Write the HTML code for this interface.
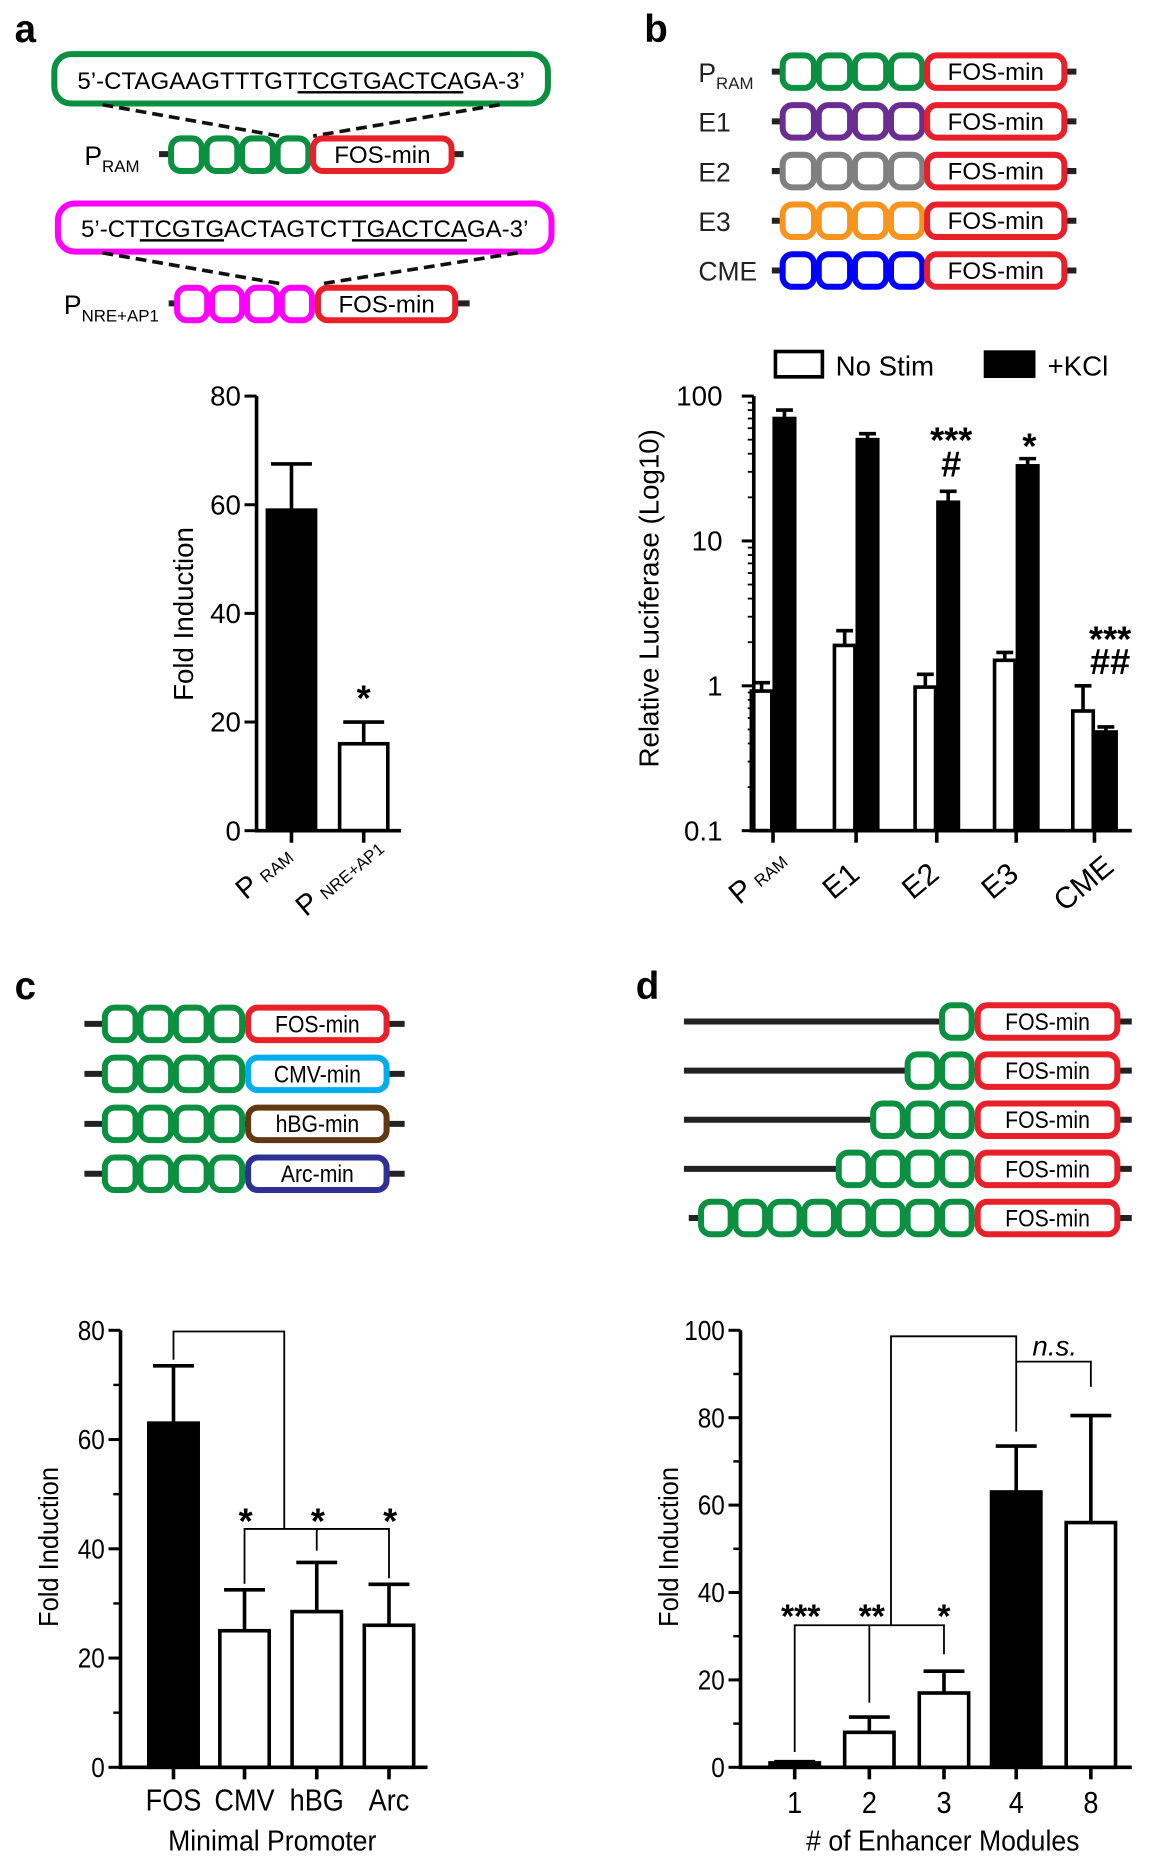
<!DOCTYPE html>
<html><head><meta charset="utf-8"><style>
html,body{margin:0;padding:0;background:#fff}
svg{display:block;font-family:"Liberation Sans",sans-serif}
</style></head><body>
<svg id="fig" width="1156" height="1860" viewBox="0 0 960 1545" xmlns="http://www.w3.org/2000/svg"></svg>
<script>
// ---------- data ----------
const aCats=["P_RAM","P_NRE+AP1"];
const aVals=[59,16];
const aErrs=[67.5,20];
const aTicks=[0,20,40,60,80];

const bCats=["P_RAM","E1","E2","E3","CME"];
const bNoStim=[0.92,1.9,0.98,1.5,0.67];
const bNoStimErr=[1.05,2.4,1.2,1.7,1.0];
const bKCl=[70,50,18.5,33,0.48];
const bKClErr=[80,55,22,37,0.52];
const bTicks=[0.1,1,10,100];
const bTickLabels=["0.1","1","10","100"];

const cCats=["FOS","CMV","hBG","Arc"];
const cVals=[63,25,28.5,26];
const cErrs=[73.5,32.5,37.5,33.5];
const cTicks=[0,20,40,60,80];

const dCats=["1","2","3","4","8"];
const dVals=[1,8,17,63,56];
const dErrs=[1.3,11.5,22,73.5,80.5];
const dTicks=[0,20,40,60,80,100];

const NS="http://www.w3.org/2000/svg";
const svg=document.getElementById('fig');
function el(tag,at,parent,txt){const e=document.createElementNS(NS,tag);for(const k in at)e.setAttribute(k,at[k]);if(txt!==undefined)e.textContent=txt;(parent||svg).appendChild(e);return e;}
function grp(name){const g=el('g',{});return g;}
const GREEN="#0a9040",RED="#e8202a";

[["a",12,35],["b",535,35],["c",12,830],["d",528,830]].forEach(p=>{
 const t=el('text',{x:p[1],y:p[2],'font-size':32,'font-weight':'bold'},svg,p[0]);
 
});

function modules(g,x,y,n,w,h,color){
 for(let i=0;i<n;i++) el('rect',{x:x+i*w+2,y:y+2,width:w-4,height:h-4,rx:8,fill:'#fff',stroke:color,'stroke-width':5},g);
}
function promBox(g,x,y,w,h,color,label,fs,narrow){
 el('rect',{x:x+2,y:y+2,width:w-4,height:h-4,rx:8,fill:'#fff',stroke:color,'stroke-width':5},g);
 const t=el('text',{x:x+w/2,y:y+h/2+7,'font-size':fs,'text-anchor':'middle'},g,label);
 if(narrow)t.setAttribute('transform',`translate(${x+w/2},0) scale(0.88,1) translate(${-(x+w/2)},0)`);
}

// ---------- panel a diagrams ----------
(function(){
 const g=grp('panel-a-constructs');
 el('rect',{x:45,y:45,width:410,height:41,rx:14,fill:'#fff',stroke:GREEN,'stroke-width':5},g);
 const t1=el('text',{x:250,y:74,'font-size':20,'text-anchor':'middle'},g);
 el('tspan',{},t1,"5’-CTAGAAGTTTGT");el('tspan',{'text-decoration':'underline'},t1,"TCGTGACTCA");el('tspan',{},t1,"GA-3’");
 el('path',{d:'M85 87 L232 113 M415 87 L260 113',stroke:'#111','stroke-width':3,'stroke-dasharray':'9,5',fill:'none'},g);
 el('line',{x1:132,y1:128,x2:385,y2:128,stroke:'#222','stroke-width':5},g);
 modules(g,140,113,4,29.5,31,GREEN);
 promBox(g,258,113,119,31,RED,"FOS-min",20);
 const p1=el('text',{x:70,y:137,'font-size':22},g,"P");el('tspan',{'font-size':14,dy:6},p1,"RAM");
 el('rect',{x:48,y:169,width:410,height:40,rx:14,fill:'#fff',stroke:'#ff00ff','stroke-width':5},g);
 const t2=el('text',{x:253,y:197,'font-size':20,'text-anchor':'middle'},g);
 el('tspan',{},t2,"5’-CT");el('tspan',{'text-decoration':'underline'},t2,"TCGTG");el('tspan',{},t2,"ACTAGTCT");el('tspan',{'text-decoration':'underline'},t2,"TGACTCA");el('tspan',{},t2,"GA-3’");
 el('path',{d:'M85 210 L235 236 M430 210 L265 236',stroke:'#111','stroke-width':3,'stroke-dasharray':'9,5',fill:'none'},g);
 el('line',{x1:140,y1:252,x2:390,y2:252,stroke:'#222','stroke-width':5},g);
 modules(g,145,237,4,29,31,'#ff00ff');
 promBox(g,262,237,118,31,RED,"FOS-min",20);
 const p2=el('text',{x:53,y:261,'font-size':22},g,"P");el('tspan',{'font-size':14,dy:6},p2,"NRE+AP1");
})();

// ---------- panel b diagrams ----------
(function(){
 const g=grp('panel-b-constructs');
 const cols=[GREEN,"#6a2d91","#808080","#f7941d","#0000ff"];
 const labs=["P","E1","E2","E3","CME"];
 for(let i=0;i<5;i++){
  const y=44+i*41.3;
  el('line',{x1:641,y1:y+15.5,x2:894,y2:y+15.5,stroke:'#222','stroke-width':5},g);
  modules(g,648,y,4,30,31,cols[i]);
  promBox(g,768,y,118,31,RED,"FOS-min",20);
  const t=el('text',{x:580,y:y+24,'font-size':22,fill:'#222'},g,labs[i]);
  if(i===0)el('tspan',{'font-size':14,dy:6},t,"RAM");
 }
})();

// ---------- panel c diagrams ----------
(function(){
 const g=grp('panel-c-constructs');
 const cols=[RED,"#00aeef","#603913","#2e3192"];
 const labs=["FOS-min","CMV-min","hBG-min","Arc-min"];
 for(let i=0;i<4;i++){
  const y=835+i*41.5;
  el('line',{x1:70,y1:y+15.5,x2:336,y2:y+15.5,stroke:'#222','stroke-width':5},g);
  modules(g,85,y,4,29.5,31,GREEN);
  promBox(g,204,y,119,31,cols[i],labs[i],20,true);
 }
})();

// ---------- panel d diagrams ----------
(function(){
 const g=grp('panel-d-constructs');
 const ns=[1,2,3,4,8];
 for(let i=0;i<5;i++){
  const y=833+i*40.8;
  el('line',{x1:(i===4?572:568),y1:y+15.5,x2:940,y2:y+15.5,stroke:'#222','stroke-width':5},g);
  modules(g,809-ns[i]*28.6,y,ns[i],28.6,31,GREEN);
  promBox(g,810,y,120,31,RED,"FOS-min",20,true);
 }
})();

// ---------- generic linear bar chart ----------
function linChart(o){
 const g=grp(o.name);
 const Y=v=>o.y0-(v-o.min)/(o.max-o.min)*(o.y0-o.yTop);
 o.vals.forEach((v,i)=>{
  const cx=o.xs[i];
  const b=el('rect',{x:cx-o.bw/2,y:Y(v),width:o.bw,height:o.y0-Y(v),fill:o.fills[i],stroke:'#000','stroke-width':3},g);
  
  el('line',{x1:cx,y1:Y(v),x2:cx,y2:Y(o.errs[i]),stroke:'#000','stroke-width':3},g);
  el('line',{x1:cx-o.cap,y1:Y(o.errs[i]),x2:cx+o.cap,y2:Y(o.errs[i]),stroke:'#000','stroke-width':3},g);
 });
 el('line',{x1:o.ax,y1:o.yTop,x2:o.ax,y2:o.y0+1.5,stroke:'#000','stroke-width':3},g);
 el('line',{x1:o.ax,y1:o.y0,x2:o.xEnd,y2:o.y0,stroke:'#000','stroke-width':3},g);
 o.ticks.forEach((t,i)=>{
  el('line',{x1:o.ax-10,y1:Y(t),x2:o.ax,y2:Y(t),stroke:'#000','stroke-width':2.5},g);
  const tl=el('text',{x:o.ax-13,y:Y(t)+8,'font-size':23,'text-anchor':'end'},g,String(t));
  if(o.narrow)tl.setAttribute('transform',`translate(${o.ax-13},0) scale(0.88,1) translate(${-(o.ax-13)},0)`);
  if(o.minor&&i<o.ticks.length-1){const m=(t+o.ticks[i+1])/2;el('line',{x1:o.ax-6,y1:Y(m),x2:o.ax,y2:Y(m),stroke:'#000','stroke-width':2},g);}
 });
 o.xs.forEach(x=>el('line',{x1:x,y1:o.y0,x2:x,y2:o.y0+10,stroke:'#000','stroke-width':3},g));
 const yt=el('text',{x:0,y:0,'font-size':23,'text-anchor':'middle',transform:`translate(${o.titleX},${o.titleY}) rotate(-90)${o.narrow?' scale(0.92,1)':''}`},g,o.ytitle);
 
 return {g,Y};
}

// panel a chart
(function(){
 const r=linChart({name:'panel-a-chart',cats:aCats,vals:aVals,errs:aErrs,ticks:aTicks,min:0,max:80,y0:690,yTop:329,ax:213,xEnd:333,xs:[242,302],bw:40,cap:17,fills:['#000','#fff'],ytitle:'Fold Induction',titleX:160,titleY:510});
 el('text',{x:302,y:590,'font-size':30,'text-anchor':'middle','font-weight':'bold'},r.g,'*');
 const l1=el('text',{x:0,y:0,'font-size':24,transform:'translate(204,748) rotate(-40)'},r.g,'P');el('tspan',{'font-size':14,dx:6},l1,'RAM');
 const l2=el('text',{x:0,y:0,'font-size':24,transform:'translate(254,762) rotate(-40)'},r.g,'P');el('tspan',{'font-size':14,dx:6},l2,'NRE+AP1');
})();

// panel b chart (log)
(function(){
 const g=grp('panel-b-chart');
 const y0=690,yTop=329,ax=626;
 const Y=v=>y0-(Math.log10(v)+1)/3*(y0-yTop);
 const xs=[642,711,778,844,909],bw=17,off=9.5;
 bCats.forEach((c,i)=>{
  [[bNoStim[i],bNoStimErr[i],'#fff',-1,'nostim'],[bKCl[i],bKClErr[i],'#000',1,'kcl']].forEach(s=>{
   const cx=xs[i]+s[3]*off;
   const b=el('rect',{x:cx-bw/2,y:Y(s[0]),width:bw,height:y0-Y(s[0]),fill:s[2],stroke:'#000','stroke-width':3},g);
   
   el('line',{x1:cx,y1:Y(s[0]),x2:cx,y2:Y(s[1]),stroke:'#000','stroke-width':3},g);
   el('line',{x1:cx-7,y1:Y(s[1]),x2:cx+7,y2:Y(s[1]),stroke:'#000','stroke-width':3},g);
  });
 });
 el('line',{x1:ax,y1:yTop,x2:ax,y2:y0+1.5,stroke:'#000','stroke-width':3},g);
 el('line',{x1:ax,y1:y0,x2:940,y2:y0,stroke:'#000','stroke-width':3},g);
 bTicks.forEach((t,i)=>{
  el('line',{x1:ax-10,y1:Y(t),x2:ax,y2:Y(t),stroke:'#000','stroke-width':2.5},g);
  el('text',{x:ax-26,y:Y(t)+8,'font-size':23,'text-anchor':'end'},g,bTickLabels[i]);
  if(i<bTicks.length-1)for(let k=2;k<10;k++)el('line',{x1:ax-5,y1:Y(t*k),x2:ax,y2:Y(t*k),stroke:'#000','stroke-width':1.5},g);
 });
 xs.forEach(x=>el('line',{x1:x,y1:y0,x2:x,y2:y0+10,stroke:'#000','stroke-width':3},g));
 const yt=el('text',{x:0,y:0,'font-size':23,'text-anchor':'middle',transform:'translate(547,497) rotate(-90)'},g,'Relative Luciferase (Log10)');
 
 const lab=[['P',614,752],['E1',692,748],['E2',758,748],['E3',824,748],['CME',884,758]];
 lab.forEach((l,i)=>{const t=el('text',{x:0,y:0,'font-size':25,transform:`translate(${l[1]},${l[2]}) rotate(-40)`},g,l[0]);if(i===0)el('tspan',{'font-size':14,dx:6},t,'RAM');});
 [['***',790,376],['#',790,396],['*',855,381],['***',922,541],['##',922,560]].forEach(a=>el('text',{x:a[1],y:a[2],'font-size':30,'font-weight':'bold','text-anchor':'middle'},g,a[0]));
 const lg=grp('legend');
 el('rect',{x:644,y:292,width:39,height:21,fill:'#fff',stroke:'#000','stroke-width':3},lg);
 el('text',{x:694,y:312,'font-size':23},lg,'No Stim');
 el('rect',{x:817,y:291,width:43,height:23,fill:'#000'},lg);
 el('text',{x:870,y:312,'font-size':23},lg,'+KCl');
})();

// panel c chart
(function(){
 const xs=[144,203,263,323];
 const r=linChart({name:'panel-c-chart',cats:cCats,vals:cVals,errs:cErrs,ticks:cTicks,min:0,max:80,y0:1468,yTop:1105,ax:100,xEnd:355,xs:xs,bw:41,cap:17,fills:['#000','#fff','#fff','#fff'],ytitle:'Fold Induction',titleX:48,titleY:1285,minor:true,narrow:true});
 const Y=r.Y;
 el('path',{d:`M${xs[0]} ${Y(cErrs[0])-5} V1106 H236 V1270 M${xs[1]} ${Y(cErrs[1])-5} V1270 H${xs[3]} V${Y(cErrs[3])-5} M${xs[2]} 1270 V1288`,fill:'none',stroke:'#000','stroke-width':1.5},r.g);
 [xs[1],xs[2],xs[3]].forEach(x=>el('text',{x:x+1,y:1274,'font-size':30,'font-weight':'bold','text-anchor':'middle'},r.g,'*'));
 cCats.forEach((c,i)=>{el('text',{x:0,y:0,'font-size':25,'text-anchor':'middle',transform:`translate(${xs[i]},1504) scale(0.9,1)`},r.g,c);});
 el('text',{x:0,y:0,'font-size':24,'text-anchor':'middle',transform:'translate(226,1537) scale(0.92,1)'},r.g,'Minimal Promoter');
})();

// panel d chart
(function(){
 const xs=[660,722,784,844,906];
 const r=linChart({name:'panel-d-chart',cats:dCats,vals:dVals,errs:dErrs,ticks:dTicks,min:0,max:100,y0:1468,yTop:1105,ax:615,xEnd:940,xs:xs,bw:41,cap:17,fills:['#000','#fff','#fff','#000','#fff'],ytitle:'Fold Induction',titleX:563,titleY:1285,minor:true,narrow:true});
 const Y=r.Y;
 el('path',{d:`M${xs[0]} ${Y(dErrs[0])-8} V1350 H${xs[2]} V${Y(dErrs[2])-14} M${xs[1]} ${Y(dErrs[1])-12} V1350 M740 1350 V1110 H${xs[3]} V${Y(dErrs[3])-12} M${xs[3]} 1131 H${xs[4]} V1152`,fill:'none',stroke:'#000','stroke-width':1.5},r.g);
 [['***',665],['**',724],['*',784]].forEach(a=>el('text',{x:a[1],y:1352,'font-size':28,'font-weight':'bold','text-anchor':'middle'},r.g,a[0]));
 el('text',{x:876,y:1126,'font-size':23,'font-style':'italic','text-anchor':'middle'},r.g,'n.s.');
 dCats.forEach((c,i)=>el('text',{x:0,y:0,'font-size':25,'text-anchor':'middle',transform:`translate(${xs[i]},1506) scale(0.9,1)`},r.g,c));
 el('text',{x:0,y:0,'font-size':24,'text-anchor':'middle',transform:'translate(783,1537) scale(0.92,1)'},r.g,'# of Enhancer Modules');
})();
</script>
</body></html>
